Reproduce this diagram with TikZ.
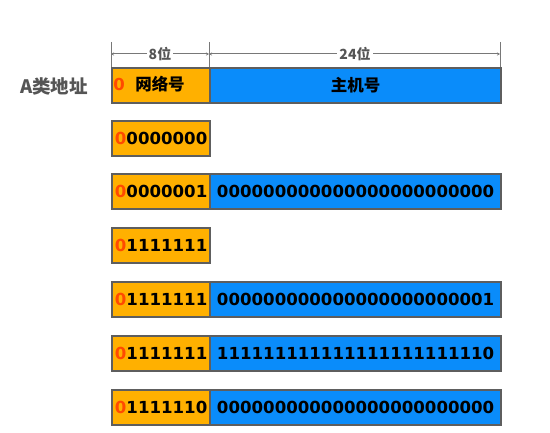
\documentclass[tikz,border=0pt]{standalone}
\usepackage{fontspec}
\setmainfont{DejaVu Sans}
\newfontfamily\cjk{Noto Sans CJK SC}
\usetikzlibrary{arrows.meta}
\definecolor{netc}{HTML}{FFB000}
\definecolor{hostc}{HTML}{0A8CFA}
\definecolor{bordc}{HTML}{5E5E5E}
\definecolor{zeroc}{HTML}{FF4A00}
\definecolor{labc}{HTML}{555555}
\definecolor{dimc}{HTML}{787878}
\begin{document}
\begin{tikzpicture}[x=1pt,y=-1pt,
  netbox/.style={draw=bordc, line width=2.2pt, fill=netc, minimum width=98pt, minimum height=35pt, anchor=north west, inner sep=0pt, font=\bfseries\fontsize{16.6}{16.6}\selectfont},
  hostbox/.style={draw=bordc, line width=2.2pt, fill=hostc, minimum width=291pt, minimum height=35pt, anchor=north west, inner sep=0pt, font=\bfseries\fontsize{16.6}{16.6}\selectfont},
  dimline/.style={draw=dimc, line width=1pt},
  dimarrow/.style={dimline, {Stealth[length=3pt,width=3pt]}-{Stealth[length=3pt,width=3pt]}},
  dimlab/.style={fill=white, inner sep=2pt, text=labc, font=\cjk\bfseries\fontsize{14}{14}\selectfont},
  zero/.style={text=zeroc}
]
\useasboundingbox (0,0) rectangle (550,433);

% title
\node[text=labc, font=\cjk\bfseries\fontsize{18.5}{18.5}\selectfont] (title) at (54,86) {A类地址};

% header row
\node[netbox] (n0) at (111,67) {};
\node[hostbox] (h0) at (209,67) {};
\node[text=zeroc, font=\bfseries\fontsize{16.5}{16.5}\selectfont] (n0z) at (119,84.5) {0};
\node[font=\cjk\bfseries\fontsize{16.5}{16.5}\selectfont] (n0t) at (160,84.5) {网络号};
\node[font=\cjk\bfseries\fontsize{16.5}{16.5}\selectfont] (h0t) at (h0.center) {主机号};

% dimension lines
\coordinate (t1a) at (111,42); \coordinate (t1b) at (111,67);
\coordinate (t2a) at (209,42); \coordinate (t2b) at (209,67);
\coordinate (t3a) at (500,42); \coordinate (t3b) at (500,67);
\coordinate (d1) at (111,54); \coordinate (d2) at (209,54); \coordinate (d3) at (500,54);
\draw[dimline] (t1a) -- (t1b);
\draw[dimline] (t2a) -- (t2b);
\draw[dimline] (t3a) -- (t3b);
\draw[dimarrow] (d1) -- (d2);
\draw[dimarrow] (d2) -- (d3);
\node[dimlab] (l8) at (160,54) {8位};
\node[dimlab] (l24) at (355,54) {24位};

% rows
\node[netbox] (n1) at (111,120) {\textcolor{zeroc}{0}0000000};

\node[netbox] (n2) at (111,173) {\textcolor{zeroc}{0}0000001};
\node[hostbox] (h2) at (209,173) {000000000000000000000000};

\node[netbox] (n3) at (111,227) {\textcolor{zeroc}{0}1111111};

\node[netbox] (n4) at (111,281) {\textcolor{zeroc}{0}1111111};
\node[hostbox] (h4) at (209,281) {000000000000000000000001};

\node[netbox] (n5) at (111,335) {\textcolor{zeroc}{0}1111111};
\node[hostbox] (h5) at (209,335) {111111111111111111111110};

\node[netbox] (n6) at (111,389) {\textcolor{zeroc}{0}1111110};
\node[hostbox] (h6) at (209,389) {000000000000000000000000};
\end{tikzpicture}
\end{document}
